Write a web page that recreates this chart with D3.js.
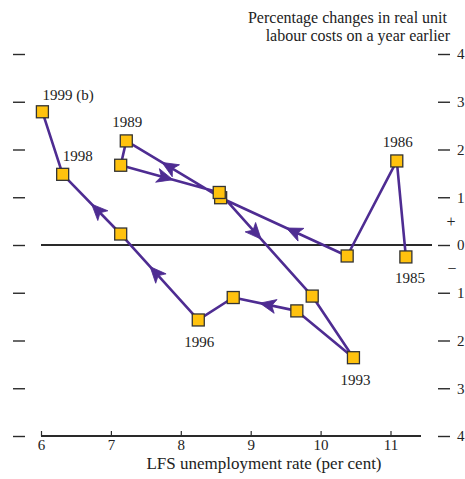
<!DOCTYPE html>
<html>
<head>
<meta charset="utf-8">
<script src="https://cdn.jsdelivr.net/npm/d3@7"></script>
<style>
  html, body { margin: 0; padding: 0; background: #fff; }
  svg { display: block; }
  text { font-family: "Liberation Serif", "Times New Roman", serif; fill: #222; }
</style>
</head>
<body>
<svg id="chart" width="465" height="479"></svg>
<script>
// Annual observations, 1985 to 1999
const years = [1985, 1986, 1987, 1988, 1989, 1990, 1991, 1992, 1993, 1994, 1995, 1996, 1997, 1998, 1999];
const unemploymentRate = [11.22, 11.09, 10.38, 8.57, 7.22, 7.14, 8.55, 9.88, 10.47, 9.66, 8.75, 8.25, 7.14, 6.31, 6.02];
const rulcChange = [-0.25, 1.76, -0.23, 0.99, 2.18, 1.67, 1.10, -1.07, -2.36, -1.38, -1.10, -1.57, 0.23, 1.48, 2.79];

// Years whose segment to the next year carries a direction arrow
const arrowYears = [1987, 1988, 1990, 1991, 1994, 1996, 1997];

// Point labels
const labelYears = [1999, 1998, 1989, 1986, 1985, 1996, 1993];
const labelTexts = ["1999 (b)", "1998", "1989", "1986", "1985", "1996", "1993"];

// Axis ticks
const xTicks = [6, 7, 8, 9, 10, 11];
const yTicks = [4, 3, 2, 1, 0, -1, -2, -3, -4];

const titleLines = ["Percentage changes in real unit", "labour costs on a year earlier"];
const xTitle = "LFS unemployment rate (per cent)";

const svg = d3.select("#chart");
const ink = "#2a2a2a";
const lineColor = "#4e2c92";
const markerFill = "#ffc20e";

const x = d3.scaleLinear().domain([6, 11]).range([41, 390.5]);
const y = d3.scaleLinear().domain([-4, 4]).range([436, 54]);

const data = years.map((yr, i) => ({ year: yr, x: unemploymentRate[i], y: rulcChange[i] }));

// Title (top right)
svg.append("g").selectAll("text").data(titleLines).join("text")
  .attr("x", (d, i) => i === 0 ? 447 : 450)
  .attr("y", (d, i) => 23 + i * 18)
  .attr("text-anchor", "end")
  .style("font-size", "16px")
  .text(d => d);

// Right-hand y axis: dashes with unsigned values
const yRight = d3.axisRight(y).tickValues(yTicks).tickSize(12).tickPadding(7)
  .tickFormat(d => d3.format("d")(Math.abs(d)));
const gR = svg.append("g").attr("transform", "translate(438,0)").call(yRight);
gR.select(".domain").remove();
gR.selectAll(".tick line").attr("stroke", ink).attr("stroke-width", 1.4);
gR.selectAll(".tick text").attr("fill", "#222").style("font-size", "15px")
  .style("font-family", "Liberation Serif, serif");

// Sign markers either side of zero
svg.append("text").attr("x", 451).attr("y", y(0.5) + 6).attr("text-anchor", "middle")
  .style("font-size", "16px").text("+");
svg.append("text").attr("x", 452).attr("y", y(-0.5) + 5).attr("text-anchor", "middle")
  .style("font-size", "16px").text("\u2212");

// Left-hand y axis: dashes only
const yLeft = d3.axisLeft(y).tickValues(yTicks).tickSize(12).tickFormat("");
const gL = svg.append("g").attr("transform", "translate(25,0)").call(yLeft);
gL.select(".domain").remove();
gL.selectAll(".tick line").attr("stroke", ink).attr("stroke-width", 1.4);

// Bottom x axis with upward ticks
const xAxis = d3.axisBottom(x).tickValues(xTicks).tickSizeInner(-5).tickSizeOuter(0).tickPadding(3)
  .tickFormat(d3.format("d"));
const gX = svg.append("g").attr("transform", `translate(0,${y(-4)})`).call(xAxis);
gX.select(".domain").remove();
gX.append("line").attr("x1", x(6)).attr("x2", x(11.44)).attr("stroke", ink).attr("stroke-width", 1.2)
  .attr("shape-rendering", "crispEdges");
gX.selectAll(".tick line").attr("stroke", ink).attr("stroke-width", 1.2);
gX.selectAll(".tick text").attr("fill", "#222").style("font-size", "15px")
  .style("font-family", "Liberation Serif, serif");

svg.append("text").attr("x", 264).attr("y", 469)
  .attr("text-anchor", "middle").style("font-size", "17px").text(xTitle);

// Zero line
svg.append("line").attr("x1", x(6)).attr("x2", x(11.6)).attr("y1", y(0)).attr("y2", y(0))
  .attr("stroke", ink).attr("stroke-width", 1.2).attr("shape-rendering", "crispEdges");

// Connecting path in time order
const line = d3.line().x(d => x(d.x)).y(d => y(d.y));
svg.append("path").datum(data).attr("d", line)
  .attr("fill", "none").attr("stroke", lineColor).attr("stroke-width", 2.6)
  .attr("stroke-linejoin", "round");

// Direction arrows: tip placed at a fraction along each flagged segment
const arrowTip = { 1987: 0.48, 1988: 0.62, 1990: 0.53, 1991: 0.45, 1994: 0.58, 1996: 0.62, 1997: 0.5 };
const arrowG = svg.append("g");
arrowYears.forEach(yr => {
  const i = years.indexOf(yr);
  const a = data[i], b = data[i + 1];
  const ax = x(a.x), ay = y(a.y), bx = x(b.x), by = y(b.y);
  const t = arrowTip[yr];
  const tx = ax + (bx - ax) * t, ty = ay + (by - ay) * t;
  const ang = Math.atan2(by - ay, bx - ax) * 180 / Math.PI;
  arrowG.append("path")
    .attr("d", "M0,0 L-16,-7 L-12,0 L-16,7 Z")
    .attr("transform", `translate(${tx},${ty}) rotate(${ang})`)
    .attr("fill", lineColor).attr("stroke", lineColor).attr("stroke-width", 0.8)
    .attr("stroke-linejoin", "round");
});

// Square markers
const size = 12;
svg.append("g").selectAll("rect").data(data).join("rect")
  .attr("x", d => x(d.x) - size / 2)
  .attr("y", d => y(d.y) - size / 2)
  .attr("width", size).attr("height", size)
  .attr("fill", markerFill).attr("stroke", "#333").attr("stroke-width", 1.3);

// Year labels
const labelPlacement = {
  1999: { dx: 0, dy: -12, anchor: "start" },
  1998: { dx: 0, dy: -13, anchor: "start" },
  1989: { dx: 1, dy: -14, anchor: "middle" },
  1986: { dx: 1, dy: -14, anchor: "middle" },
  1985: { dx: 4, dy: 26, anchor: "middle" },
  1996: { dx: 1, dy: 27, anchor: "middle" },
  1993: { dx: 2, dy: 27, anchor: "middle" }
};
svg.append("g").selectAll("text").data(labelYears).join("text")
  .each(function (yr, i) {
    const d = data[years.indexOf(yr)];
    const p = labelPlacement[yr];
    d3.select(this)
      .attr("x", x(d.x) + p.dx)
      .attr("y", y(d.y) + p.dy)
      .attr("text-anchor", p.anchor)
      .style("font-size", "15px")
      .text(labelTexts[i]);
  });
</script>
</body>
</html>
